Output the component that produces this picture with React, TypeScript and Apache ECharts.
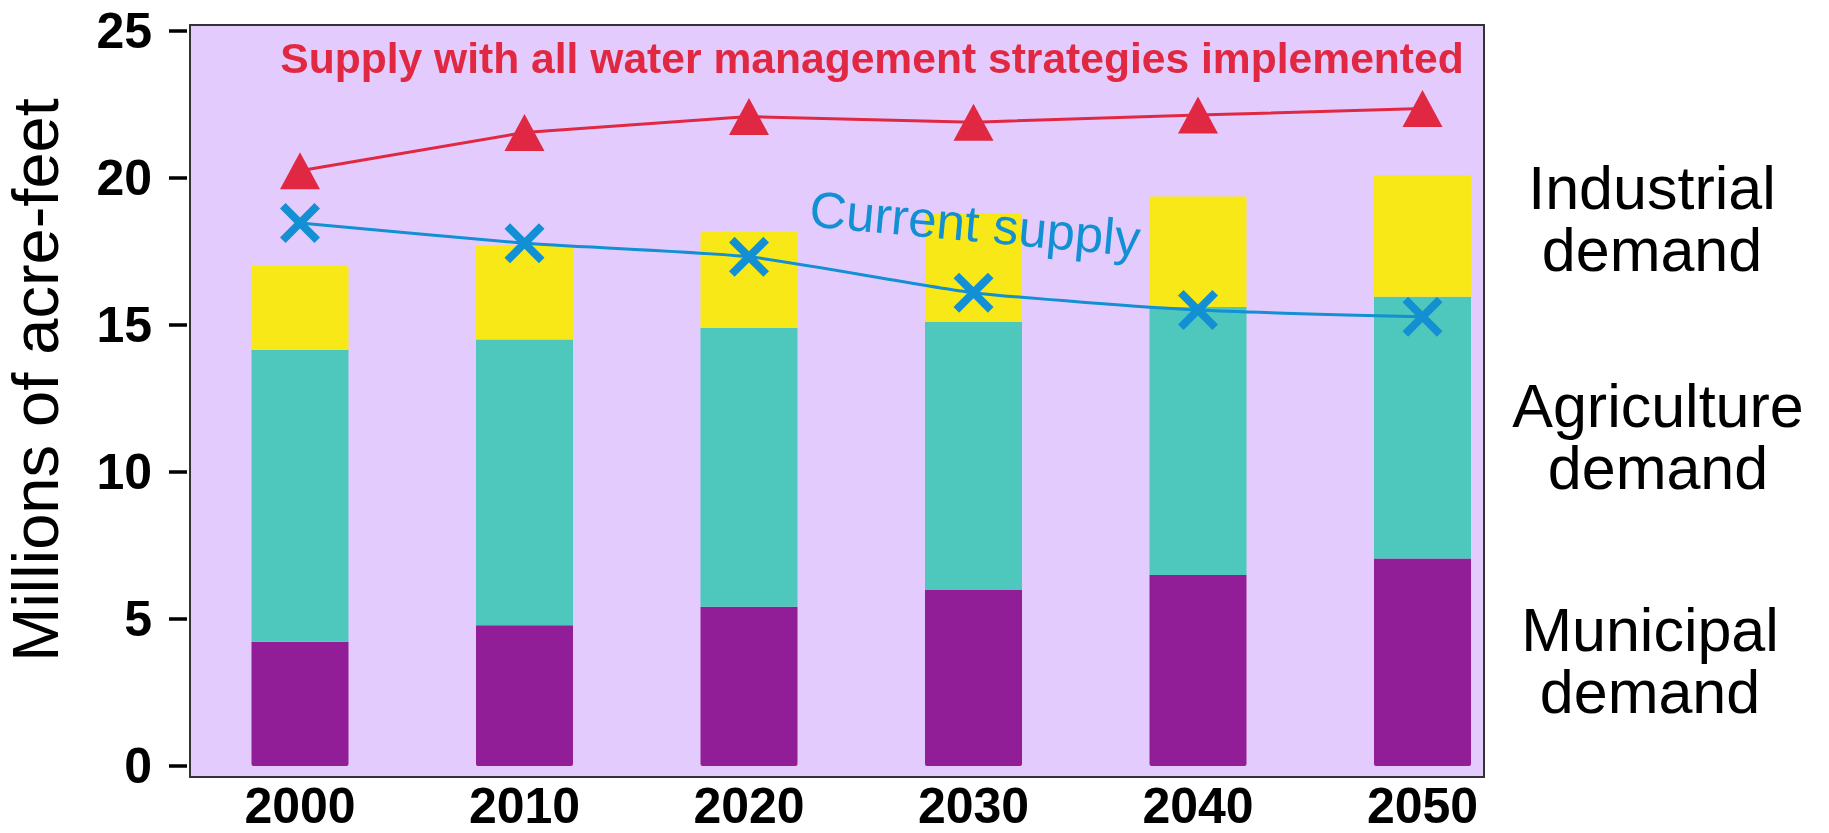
import React, { useEffect, useRef } from "react";
import * as echarts from "echarts";

const years = ["2000", "2010", "2020", "2030", "2040", "2050"];
const municipal = [4.23, 4.79, 5.42, 5.99, 6.5, 7.06];
const agriculture = [9.92, 9.72, 9.48, 9.12, 9.11, 8.9];
const industrial = [2.87, 3.21, 3.27, 3.69, 3.76, 4.14];
const supplyAll = [20.25, 21.55, 22.09, 21.9, 22.14, 22.36];
const currentSupply = [18.47, 17.78, 17.32, 16.1, 15.51, 15.28];
const yTicks = { min: 0, max: 25, interval: 5 };

const FONT = "'Liberation Sans', Arial, sans-serif";
const X_PATH =
  "path://M0,14L14,0L50,36L86,0L100,14L64,50L100,86L86,100L50,64L14,100L0,86L36,50Z";

export default function App() {
  const ref = useRef<HTMLDivElement>(null);
  useEffect(() => {
    if (!ref.current) return;
    const chart = echarts.init(ref.current, null, { renderer: "svg" });
    chart.setOption({
      animation: false,
      textStyle: { fontFamily: FONT },
      grid: { left: 300, right: 406.5, top: 31, bottom: 67, containLabel: false },
      xAxis: {
        type: "category",
        data: years,
        boundaryGap: false,
        axisLine: { show: false },
        axisTick: { show: false },
        axisLabel: {
          color: "#000",
          fontWeight: "bold",
          fontSize: 50,
          lineHeight: 48,
          fontFamily: FONT,
          margin: 16,
        },
        splitLine: { show: false },
      },
      yAxis: {
        type: "value",
        min: yTicks.min,
        max: yTicks.max,
        interval: yTicks.interval,
        offset: 113,
        axisLine: { show: false },
        axisTick: { show: true, length: 18, lineStyle: { color: "#000", width: 3.5 } },
        axisLabel: {
          color: "#000",
          fontWeight: "bold",
          fontSize: 50,
          fontFamily: FONT,
          margin: 35,
        },
        splitLine: { show: false },
      },
      graphic: [
        {
          type: "rect",
          z: -10,
          shape: { x: 190, y: 25, width: 1294, height: 752 },
          style: { fill: "#E3CCFD", stroke: "#333", lineWidth: 2 },
          silent: true,
        },
        {
          type: "text",
          x: 35,
          y: 380,
          rotation: Math.PI / 2,
          style: {
            text: "Millions of acre-feet",
            fontSize: 65,
            fontFamily: FONT,
            fill: "#000",
            align: "center",
            verticalAlign: "middle",
          },
        },
        {
          type: "text",
          x: 872,
          y: 58,
          z: 10,
          style: {
            text: "Supply with all water management strategies implemented",
            fontSize: 42.6,
            fontWeight: "bold",
            fontFamily: FONT,
            fill: "#E12842",
            align: "center",
            verticalAlign: "middle",
          },
        },
        {
          type: "text",
          x: 975,
          y: 224,
          z: 10,
          rotation: -0.091,
          style: {
            text: "Current supply",
            fontSize: 51,
            fontFamily: FONT,
            fill: "#138FD3",
            align: "center",
            verticalAlign: "middle",
          },
        },
        {
          type: "text",
          x: 1652,
          y: 219,
          style: {
            text: "Industrial\ndemand",
            fontSize: 61,
            lineHeight: 62,
            fontFamily: FONT,
            fill: "#000",
            align: "center",
            verticalAlign: "middle",
          },
        },
        {
          type: "text",
          x: 1658,
          y: 437,
          style: {
            text: "Agriculture\ndemand",
            fontSize: 61,
            lineHeight: 62,
            fontFamily: FONT,
            fill: "#000",
            align: "center",
            verticalAlign: "middle",
          },
        },
        {
          type: "text",
          x: 1650,
          y: 661,
          style: {
            text: "Municipal\ndemand",
            fontSize: 61,
            lineHeight: 62,
            fontFamily: FONT,
            fill: "#000",
            align: "center",
            verticalAlign: "middle",
          },
        },
      ],
      series: [
        {
          name: "Municipal",
          type: "bar",
          stack: "demand",
          barWidth: 97,
          data: municipal,
          itemStyle: { color: "#911E96", borderRadius: [0, 0, 2, 2] },
        },
        {
          name: "Agriculture",
          type: "bar",
          stack: "demand",
          barWidth: 97,
          data: agriculture,
          itemStyle: { color: "#4EC8BD" },
        },
        {
          name: "Industrial",
          type: "bar",
          stack: "demand",
          barWidth: 97,
          data: industrial,
          itemStyle: { color: "#F9E818", borderRadius: [2, 2, 0, 0] },
        },
        {
          name: "Supply all strategies",
          type: "line",
          data: supplyAll,
          z: 5,
          symbol: "triangle",
          symbolSize: [40, 37],
          lineStyle: { color: "#E12842", width: 3 },
          itemStyle: { color: "#E12842" },
        },
        {
          name: "Current supply",
          type: "line",
          data: currentSupply,
          z: 5,
          smooth: 0.2,
          symbol: X_PATH,
          symbolSize: 40,
          lineStyle: { color: "#138FD3", width: 3 },
          itemStyle: { color: "#138FD3" },
        },
      ],
    });
    return () => chart.dispose();
  }, []);
  return (
    <div
      ref={ref}
      style={{ position: "fixed", left: 0, top: 0, width: 1829, height: 833 }}
    />
  );
}
